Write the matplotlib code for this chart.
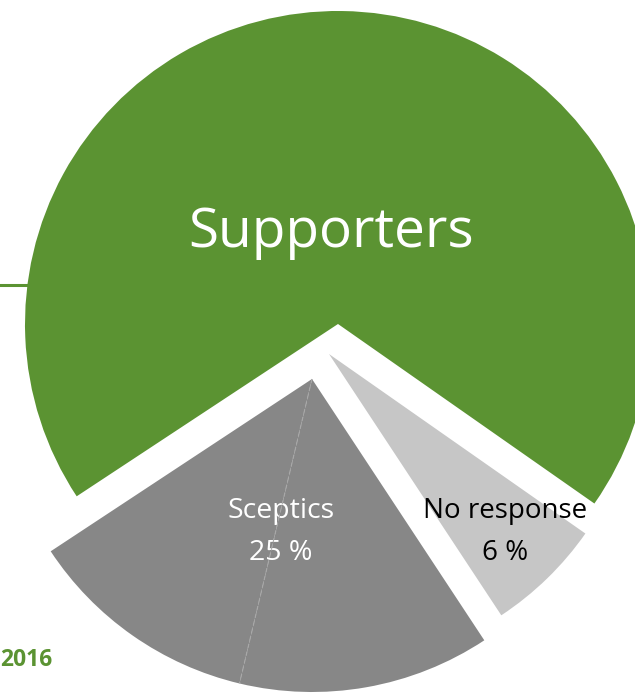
import matplotlib
matplotlib.use('Agg')
import matplotlib.pyplot as plt
import numpy as np

plt.rcParams['font.family'] = ['Open Sans', 'DejaVu Sans']

# data
groups = ['Supporters', 'Sceptics', 'No response']
shares = [69, 25, 6]
sceptic_parts = [12, 13]   # sceptics slice is drawn in two parts
year = '2016'

green = '#5b9332'
grey = '#878787'
light = '#c6c6c6'

W, H = 635, 693
fig = plt.figure(figsize=(W / 100, H / 100), dpi=100)
ax = fig.add_axes([0, 0, 1, 1])

cx, cy, R = 338, 369, 313
values = [shares[0]] + sceptic_parts + [shares[2]]
cols = [green, grey, grey, light]
wedges, _ = ax.pie(values, colors=cols, startangle=-35, counterclock=True,
                   radius=R, center=(cx, cy), frame=True,
                   wedgeprops=dict(linewidth=0))

# each slice is pulled apart by its own shift (pixels)
shift = [(0, 0), (-26, -55), (-26, -55), (-9, -30)]
for w, (dx, dy) in zip(wedges, shift):
    w.set_center((cx + dx, cy + dy))

# thin dashed split inside the sceptics slice
a = np.deg2rad(wedges[1].theta2)
sx, sy = cx + shift[1][0], cy + shift[1][1]
ax.plot([sx, sx + R * np.cos(a)], [sy, sy + R * np.sin(a)],
        color='#a9a9a9', lw=0.8, ls=(0, (4, 3)), zorder=5)

ax.text(331, H - 232, groups[0], color='white', fontsize=39.5,
        ha='center', va='center')
ax.text(281, H - 511, groups[1], color='white', fontsize=20.5,
        ha='center', va='center')
ax.text(281, H - 553, f'{shares[1]} %', color='white', fontsize=20.5,
        ha='center', va='center')
ax.text(505, H - 511, groups[2], color='black', fontsize=20,
        ha='center', va='center')
ax.text(505, H - 553, f'{shares[2]} %', color='black', fontsize=20,
        ha='center', va='center')

# small green rule on the left and the year
ax.plot([0, 27], [H - 285, H - 285], color=green, lw=2.2, zorder=0)
ax.text(0, H - 660, year, color=green, fontsize=16.5, fontweight='bold',
        ha='left', va='center')

ax.set_xlim(0, W)
ax.set_ylim(0, H)
ax.set_aspect('equal')
ax.axis('off')

fig.savefig('out.png', dpi=100)
